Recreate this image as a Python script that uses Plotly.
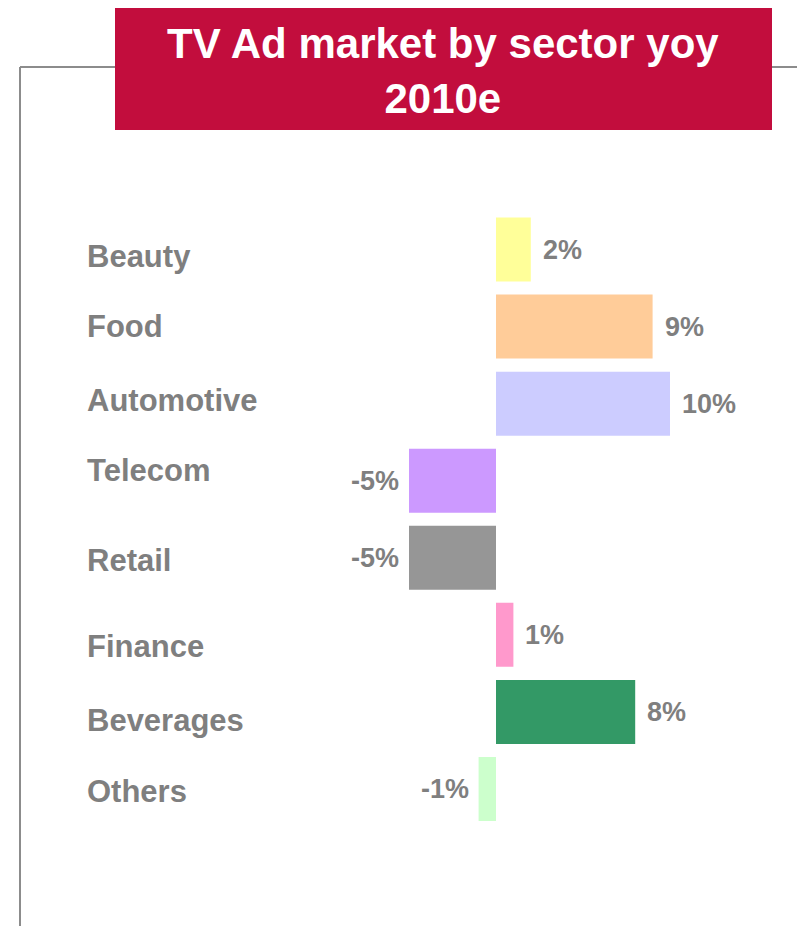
import plotly.graph_objects as go

categories = ["Beauty", "Food", "Automotive", "Telecom", "Retail", "Finance", "Beverages", "Others"]
values = [2, 9, 10, -5, -5, 1, 8, -1]
value_labels = ["2%", "9%", "10%", "-5%", "-5%", "1%", "8%", "-1%"]
colors = ["#FFFF99", "#FFCC99", "#CCCCFF", "#CC99FF", "#969696", "#FF99CC", "#339966", "#CCFFCC"]
label_dy = [-7, 0, 3, 10, -3, -12, -9, -2]

title_text = "TV Ad market by sector yoy<br>2010e"
GRAY = "#7F7F7F"
FONT = "Liberation Sans"

W, H = 813, 926
OFF = 8  # page body margin
ML, MT = 20 - OFF, 67 - OFF
pw, ph = W - ML, H - MT

def px_x(p):
    return (p - OFF - ML) / pw

def px_y(p):
    return (H - (p - OFF)) / ph

fig = go.Figure()
fig.add_trace(go.Bar(
    x=values, y=categories, orientation="h",
    marker=dict(color=colors, line=dict(width=0)),
    width=0.83, hoverinfo="skip",
))

annotations = []
for cat, v, lab, dy in zip(categories, values, value_labels, label_dy):
    annotations.append(dict(
        x=px_x(85), xref="paper", y=cat, yref="y", text=cat, showarrow=False,
        xanchor="left", yanchor="middle", yshift=dy,
        font=dict(family=FONT, size=31, color=GRAY, weight="bold"),
    ))
    annotations.append(dict(
        x=v, xref="x", y=cat, yref="y", text=lab, showarrow=False,
        xanchor="left" if v >= 0 else "right", yanchor="middle",
        xshift=10 if v >= 0 else -8,
        font=dict(family=FONT, size=27, color=GRAY, weight="bold"),
    ))

annotations.append(dict(
    x=px_x(443), xref="paper", y=px_y(71), yref="paper", text=title_text,
    showarrow=False, xanchor="center", yanchor="middle",
    font=dict(family=FONT, size=42, color="white", weight="bold"),
))

shapes = [
    dict(type="line", xref="paper", yref="paper", x0=0, x1=1.05, y0=1, y1=1,
         line=dict(color="#8C8C8C", width=2)),
    dict(type="line", xref="paper", yref="paper", x0=0, x1=0, y0=-0.05, y1=1,
         line=dict(color="#8C8C8C", width=2)),
    dict(type="rect", xref="paper", yref="paper", x0=px_x(115), x1=px_x(772),
         y0=px_y(130), y1=px_y(8), fillcolor="#C20D3D", line=dict(width=0)),
]

pxu = 17.4
zero_px = 496 - OFF
x_min = -(zero_px - ML) / pxu
x_max = (W - zero_px) / pxu
pitch = 77.07
y_top = 0 - (249.5 - OFF - MT) / pitch
y_bot = 7 + (H - (789 - OFF)) / pitch

fig.update_layout(
    width=W, height=H,
    margin=dict(l=ML, r=0, t=MT, b=0),
    paper_bgcolor="white", plot_bgcolor="white",
    showlegend=False,
    xaxis=dict(range=[x_min, x_max], visible=False, fixedrange=True),
    yaxis=dict(range=[y_bot, y_top], visible=False, type="category",
               categoryorder="array", categoryarray=categories, fixedrange=True),
    annotations=annotations, shapes=shapes,
    bargap=0.17,
)

fig.write_html("out.html")
